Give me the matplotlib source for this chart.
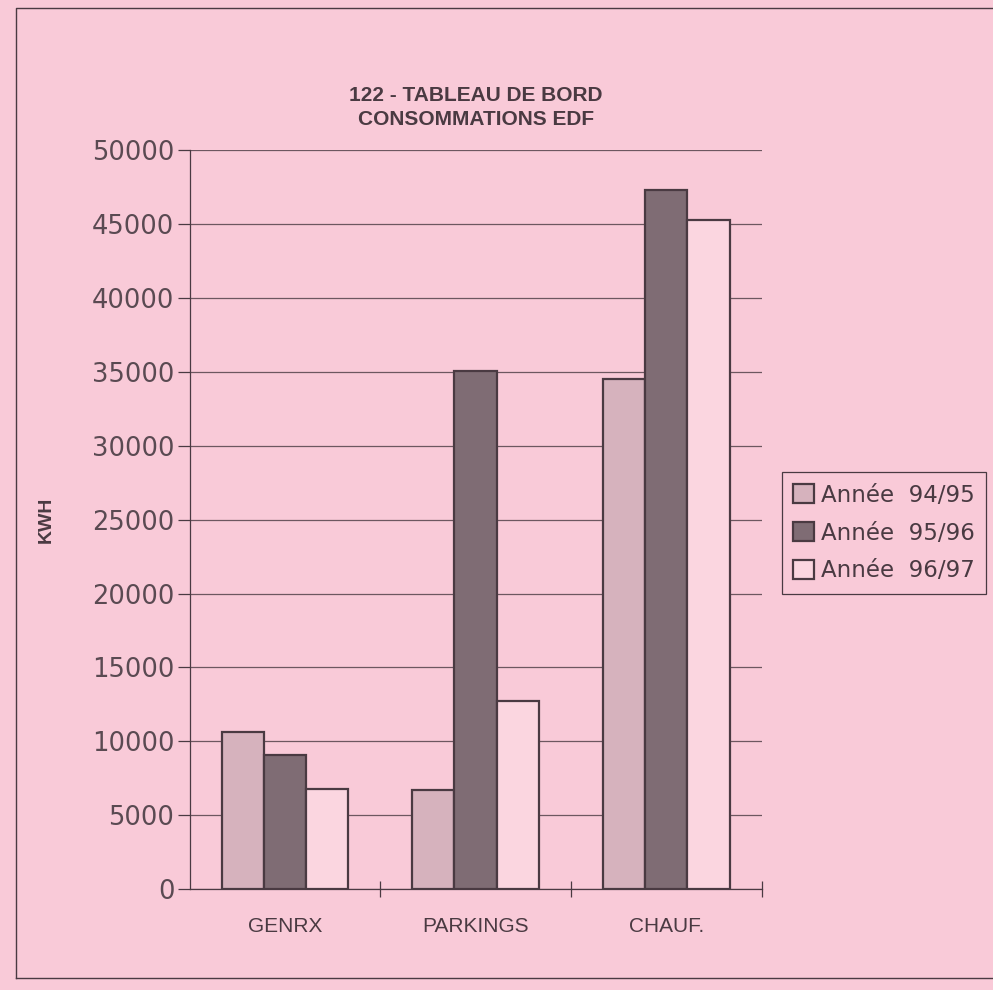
import numpy as np
import matplotlib.pyplot as plt
from matplotlib.lines import Line2D

# data
categories = ["GENRX", "PARKINGS", "CHAUF."]
series = ["Année  94/95", "Année  95/96", "Année  96/97"]
v9495 = [10600, 6700, 34500]
v9596 = [9100, 35100, 47300]
v9697 = [6800, 12700, 45300]
values = [v9495, v9596, v9697]
yticks = [0, 5000, 10000, 15000, 20000, 25000, 30000, 35000, 40000, 45000, 50000]

bg = '#f9cad8'
ink = '#4a3a42'
colors = ['#d6b2bd', '#7f6c74', '#fbd6e0']

plt.rcParams['font.family'] = ['Liberation Sans', 'DejaVu Sans']

fig = plt.figure(figsize=(9.93, 9.90), dpi=100, facecolor=bg)
ax = fig.add_axes([0.191, 0.102, 0.576, 0.746], facecolor=bg)

x = np.arange(len(categories))
w = 0.222
for i, vals in enumerate(values):
    ax.bar(x + (i - 1) * w, vals, w, color=colors[i], edgecolor=ink,
           linewidth=1.6, label=series[i], zorder=3)

ax.set_xlim(-0.5, 2.5)
ax.set_ylim(0, 50000)
ax.set_yticks(yticks)
ax.set_yticklabels([str(t) for t in yticks], fontsize=18.5, family='DejaVu Sans',
                   color='#5a4a52')
ax.yaxis.grid(True, color=ink, linewidth=0.9, alpha=0.8, zorder=0)
ax.tick_params(axis='y', length=9, width=0.9, color=ink, pad=2)

ax.set_xticks([0.5, 1.5, 2.5])
ax.set_xticklabels([])
ax.set_xticks(x, minor=True)
ax.set_xticklabels(categories, minor=True, fontsize=15, color=ink)
ax.tick_params(axis='x', which='major', length=12, width=0.9, color=ink, direction='inout')
ax.tick_params(axis='x', which='minor', length=0, pad=20)

for s in ['top', 'right']:
    ax.spines[s].set_visible(False)
for s in ['left', 'bottom']:
    ax.spines[s].set_color(ink)
    ax.spines[s].set_linewidth(0.9)

ax.set_ylabel("KWH", fontsize=14, fontweight='bold', color=ink)
ax.yaxis.set_label_coords(-0.236, 0.5)

ax.set_title("122 - TABLEAU DE BORD\nCONSOMMATIONS EDF", fontsize=15,
             fontweight='bold', color=ink, pad=18, linespacing=1.35)

leg = ax.legend(loc='center left', bbox_to_anchor=(1.015, 0.482),
                prop={'family': 'DejaVu Sans', 'size': 16.5},
                frameon=True, fancybox=False, framealpha=1, facecolor=bg,
                edgecolor=ink, handlelength=0.9, handleheight=0.9,
                handletextpad=0.3, borderpad=0.5, labelspacing=0.65)
leg.get_frame().set_linewidth(0.9)
for t in leg.get_texts():
    t.set_color(ink)

# page border from the scan
fig.add_artist(Line2D([0.016, 0.016, 1.0], [0.012, 0.992, 0.992], transform=fig.transFigure,
                      color=ink, linewidth=1.0))
fig.add_artist(Line2D([0.016, 1.0], [0.012, 0.012], transform=fig.transFigure,
                      color=ink, linewidth=1.0))

fig.savefig("out.png", dpi=100, facecolor=bg)
